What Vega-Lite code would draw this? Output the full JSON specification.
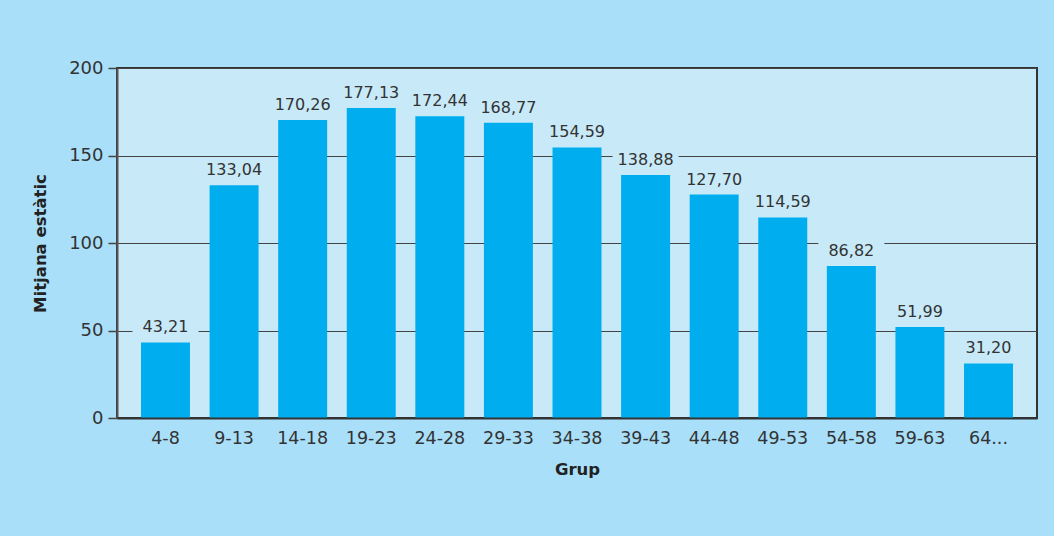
{
  "$schema": "https://vega.github.io/schema/vega-lite/v6.json",
  "width": 920,
  "height": 350,
  "autosize": {"type": "none"},
  "padding": {"left": 117, "top": 68, "right": 17, "bottom": 118},
  "background": "#a9dff9",
  "config": {
    "view": {"fill": "#c7e9f8", "stroke": "#333333", "strokeWidth": 2},
    "font": "DejaVu Sans",
    "locale": {"number": {"decimal": ",", "thousands": ".", "grouping": [3], "currency": ["", " €"]}}
  },
  "data": {
    "values": [
      {"grup": "4-8", "v": 43.21},
      {"grup": "9-13", "v": 133.04},
      {"grup": "14-18", "v": 170.26},
      {"grup": "19-23", "v": 177.13},
      {"grup": "24-28", "v": 172.44},
      {"grup": "29-33", "v": 168.77},
      {"grup": "34-38", "v": 154.59},
      {"grup": "39-43", "v": 138.88},
      {"grup": "44-48", "v": 127.70},
      {"grup": "49-53", "v": 114.59},
      {"grup": "54-58", "v": 86.82},
      {"grup": "59-63", "v": 51.99},
      {"grup": "64...", "v": 31.20}
    ]
  },
  "encoding": {
    "x": {
      "field": "grup", "type": "nominal", "sort": null,
      "scale": {"paddingInner": 0.286, "paddingOuter": 0.35},
      "axis": {
        "title": "Grup", "titleFontSize": 16.5, "titleFontWeight": "bold", "titleColor": "#222222", "titlePadding": 15,
        "labelAngle": 0, "labelFontSize": 17.5, "labelColor": "#333333", "labelPadding": 11,
        "ticks": false, "domainColor": "#333333", "domainWidth": 2, "zindex": 1
      }
    }
  },
  "layer": [
    {
      "mark": {"type": "bar", "color": "#00adef"},
      "encoding": {
        "y": {
          "field": "v", "type": "quantitative",
          "scale": {"domain": [0, 200]},
          "axis": {
            "title": "Mitjana estàtic", "titleFontSize": 16.5, "titleFontWeight": "bold", "titleColor": "#222222", "titlePadding": 20,
            "values": [0, 50, 100, 150, 200], "labelFontSize": 18, "labelColor": "#333333", "labelPadding": 5,
            "tickSize": 9, "tickColor": "#444444", "tickWidth": 1.5,
            "domainColor": "#555555", "domainWidth": 2,
            "gridColor": "#444444", "gridWidth": 1.2
          }
        }
      }
    },
    {
      "mark": {"type": "tick", "color": "#c7e9f8", "opacity": 1, "thickness": 18, "size": 66, "yOffset": -15},
      "encoding": {"y": {"field": "v", "type": "quantitative"}}
    },
    {
      "mark": {"type": "text", "dy": -15, "fontSize": 16, "color": "#333333", "baseline": "middle"},
      "encoding": {
        "y": {"field": "v", "type": "quantitative"},
        "text": {"field": "v", "type": "quantitative", "format": ".2f"}
      }
    }
  ]
}
